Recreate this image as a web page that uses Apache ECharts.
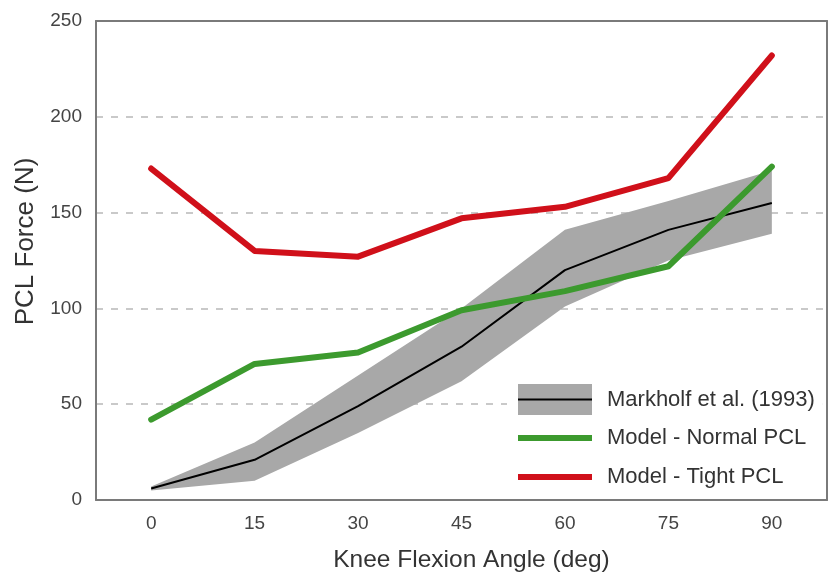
<!DOCTYPE html>
<html>
<head>
<meta charset="utf-8">
<script src="https://cdn.jsdelivr.net/npm/echarts@6/dist/echarts.min.js"></script>
<style>
html,body{margin:0;padding:0;background:#fff;}
#chart{width:831px;height:573px;}
</style>
</head>
<body>
<div id="chart"></div>
<script>
// Knee flexion angles (deg)
const angles = [0, 15, 30, 45, 60, 75, 90];
// Markholf et al. (1993) mean and band
const markholfMean  = [6, 21, 49, 80, 120, 141, 155];
const markholfUpper = [7, 30, 65, 100, 141, 156, 172];
const markholfLower = [5, 10, 35, 62, 101, 125, 139];
// Model results
const normalPCL = [42, 71, 77, 99, 109, 122, 174];
const tightPCL  = [173, 130, 127, 147, 153, 168, 232];
// Tick labels
const xTicks = [0, 15, 30, 45, 60, 75, 90];

const FONT = "'Liberation Sans', Arial, Helvetica, sans-serif";
const pairs = arr => angles.map((a, i) => [a, arr[i]]);
const bandData = angles.map((a, i) => [a, markholfLower[i], markholfUpper[i]]);

const chart = echarts.init(document.getElementById('chart'), null, {renderer: 'canvas'});
const frameLine = {show: true, onZero: false, lineStyle: {color: '#7a7a7a', width: 2}};
const option = {
  backgroundColor: '#fff',
  animation: false,
  grid: {left: 96, top: 21, right: 4, bottom: 73, outerBoundsMode: 'none', containLabel: false},
  xAxis: [{
    type: 'value', min: -8, max: 98, z: 3,
    axisLine: frameLine, axisTick: {show: false}, splitLine: {show: false},
    axisLabel: {customValues: xTicks, color: '#444', fontFamily: FONT, fontSize: 19, margin: 14},
    name: 'Knee Flexion Angle (deg)', nameLocation: 'middle', nameGap: 48,
    nameTextStyle: {color: '#333', fontFamily: FONT, fontSize: 24.5, padding: [0, 0, 0, 20]}
  }, {
    type: 'value', min: -8, max: 98, position: 'top', z: 3,
    axisLine: frameLine, axisTick: {show: false}, axisLabel: {show: false}, splitLine: {show: false}
  }],
  yAxis: [{
    type: 'value', min: 0, max: 250, interval: 50, z: 1,
    axisLine: frameLine, axisTick: {show: false},
    splitLine: {show: true, lineStyle: {color: '#b8b8b8', width: 1.5, type: [7, 8]}},
    axisLabel: {color: '#444', fontFamily: FONT, fontSize: 19, margin: 14},
    name: 'PCL Force (N)', nameLocation: 'middle', nameGap: 57,
    nameTextStyle: {color: '#333', fontFamily: FONT, fontSize: 26, padding: [0, 0, 0, 38]}
  }, {
    type: 'value', min: 0, max: 250, position: 'right', z: 3,
    axisLine: frameLine, axisTick: {show: false}, axisLabel: {show: false}, splitLine: {show: false}
  }],
  legend: [{
    left: 507, top: 375, orient: 'vertical',
    padding: [9, 8, 83, 11],
    backgroundColor: '#fff',
    itemWidth: 74, itemHeight: 31,
    data: [{name: 'Markholf et al. (1993)', icon: 'rect', itemStyle: {color: '#a8a8a8'}}],
    textStyle: {color: '#333', fontFamily: FONT, fontSize: 22, lineHeight: 24, padding: [0, 0, 0, 10]},
    selectedMode: false
  }, {
    left: 518, top: 387.5, orient: 'vertical', padding: 0,
    itemWidth: 74, itemHeight: 2,
    data: [{name: 'Markholf et al. (1993)', icon: 'rect', itemStyle: {color: '#000'}}],
    textStyle: {color: 'rgba(0,0,0,0)', fontFamily: FONT, fontSize: 22, lineHeight: 24, padding: [0, 0, 0, 10]},
    selectedMode: false
  }, {
    left: 518, top: 426, orient: 'vertical', padding: 0,
    itemWidth: 74, itemHeight: 6, itemGap: 15,
    data: [
      {name: 'Model - Normal PCL', icon: 'rect', itemStyle: {color: '#3c9a2e'}},
      {name: 'Model - Tight PCL', icon: 'rect', itemStyle: {color: '#d0101a'}}
    ],
    textStyle: {color: '#333', fontFamily: FONT, fontSize: 22, lineHeight: 24, padding: [0, 0, 0, 10]},
    selectedMode: false
  }],
  series: [{
    name: 'Markholf et al. (1993)', type: 'custom', data: bandData, silent: true, z: 2,
    encode: {x: 0, y: [1, 2]},
    renderItem: function (params, api) {
      if (params.dataIndex !== 0) return null;
      const pts = [];
      for (let i = 0; i < bandData.length; i++) pts.push(api.coord([bandData[i][0], bandData[i][2]]));
      for (let i = bandData.length - 1; i >= 0; i--) pts.push(api.coord([bandData[i][0], bandData[i][1]]));
      return {type: 'polygon', shape: {points: pts}, style: {fill: '#a8a8a8'}};
    }
  }, {
    name: 'Markholf et al. (1993)', type: 'line', data: pairs(markholfMean),
    symbol: 'none', lineStyle: {color: '#000', width: 2}, z: 3
  }, {
    name: 'Model - Normal PCL', type: 'line', data: pairs(normalPCL),
    symbol: 'none', lineStyle: {color: '#3c9a2e', width: 6, cap: 'round', join: 'round'}, z: 4
  }, {
    name: 'Model - Tight PCL', type: 'line', data: pairs(tightPCL),
    symbol: 'none', lineStyle: {color: '#d0101a', width: 6, cap: 'round', join: 'round'}, z: 5
  }]
};
chart.setOption(option);
</script>
</body>
</html>
